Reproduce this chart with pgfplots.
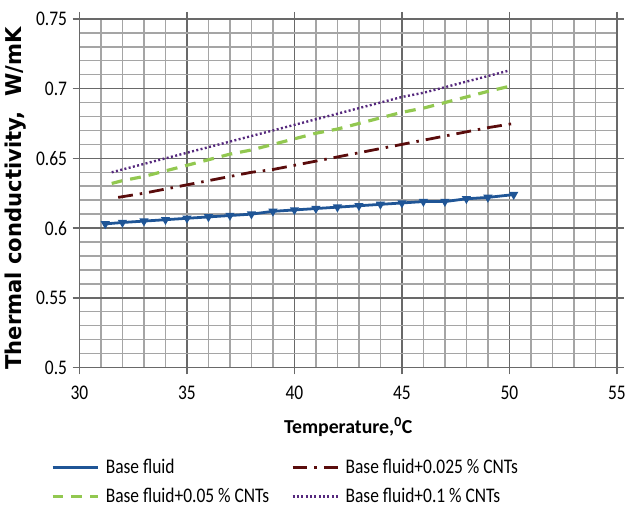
\documentclass[border=0pt]{standalone}
\usepackage{fontspec}
\setmainfont{Carlito}[FakeStretch=0.84]
\newfontfamily\xlabfont{Carlito}
\newfontfamily\ylabfont{DejaVu Sans}[FakeStretch=0.97]
\usepackage{pgfplots}
\pgfplotsset{compat=1.18}

\definecolor{cbase}{RGB}{31,85,150}
\definecolor{cred}{RGB}{90,12,12}
\definecolor{cgreen}{RGB}{146,200,80}
\definecolor{cpurple}{RGB}{85,40,125}
\definecolor{gmaj}{RGB}{105,105,105}
\definecolor{gmin}{RGB}{165,165,165}

\begin{document}
\begin{tikzpicture}
\begin{axis}[
  scale only axis,
  width=541bp, height=351bp,
  xmin=30, xmax=55, ymin=0.5, ymax=0.75,
  xtick={30,35,...,55},
  ytick={0.5,0.55,0.6,0.65,0.7,0.75},
  yticklabels={0.5,0.55,0.6,0.65,0.7,0.75},
  minor x tick num=4, minor y tick num=4,
  grid=both,
  major grid style={draw=gmaj, line width=1.5bp},
  minor grid style={draw=gmin, line width=1.5bp},
  axis line style={draw=gmaj, line width=1.5bp},
  tick align=outside,
  major tick length=7bp, minor tick length=0pt,
  tick style={draw=gmaj, line width=1.5bp},
  /pgf/number format/assume math mode=true,
  ticklabel style={font=\fontsize{21}{23}\selectfont},
  xticklabel style={yshift=-8bp},
  yticklabel style={xshift=-2bp},
  xlabel={\xlabfont\bfseries Temperature,\textsuperscript{0}C},
  xlabel style={font=\fontsize{20}{22}\selectfont, at={(0.5,-0.171)}, anchor=center},
  ylabel={\ylabfont\bfseries Thermal conductivity,\ \ W/mK},
  ylabel style={font=\fontsize{22}{24}\selectfont, at={(-0.118,0.485)}, anchor=center},
  legend columns=2,
  legend cell align=left,
  legend style={at={(-0.059,-0.252)}, anchor=north west, draw=none, fill=none,
    font=\fontsize{21}{23}\selectfont, row sep=9bp,
    nodes={inner xsep=6bp},
    /tikz/every even column/.append style={column sep=16bp}},
  legend image code/.code={\draw[#1] (0bp,0bp) -- (46bp,0bp);},
]
\addplot[cbase, line width=2.8bp, mark=triangle*, mark size=2.6bp,
  mark options={solid, rotate=180}] coordinates {
  (31.2,0.603) (32,0.604) (33,0.605) (34,0.606) (35,0.607) (36,0.608)
  (37,0.609) (38,0.610) (39,0.612) (40,0.613) (41,0.614) (42,0.615)
  (43,0.616) (44,0.617) (45,0.618) (46,0.619) (47,0.619) (48,0.621)
  (49,0.622) (50.2,0.624)
};
\addlegendentry{Base fluid}
\addplot[cred, line width=2.8bp, dash pattern=on 15bp off 7bp on 2.5bp off 7bp] coordinates {
  (31.8,0.622) (33,0.625) (34,0.628) (35,0.631) (36,0.634) (37,0.637)
  (38,0.640) (39,0.642) (40,0.645) (41,0.648) (42,0.651) (43,0.654)
  (44,0.657) (45,0.660) (46,0.663) (47,0.666) (48,0.669) (49,0.672)
  (50.2,0.675)
};
\addlegendentry{Base fluid+0.025 \% CNTs}
\addplot[cgreen, line width=3.2bp, dash pattern=on 11bp off 8bp] coordinates {
  (31.5,0.632) (32,0.634) (33,0.637) (34,0.641) (35,0.645) (36,0.649)
  (37,0.653) (38,0.656) (39,0.660) (40,0.664) (41,0.668) (42,0.671)
  (43,0.675) (44,0.679) (45,0.683) (46,0.686) (47,0.690) (48,0.694)
  (49,0.698) (50.1,0.702)
};
\addlegendentry{Base fluid+0.05 \% CNTs}
\addplot[cpurple, line width=2.4bp, dash pattern=on 2bp off 2.4bp] coordinates {
  (31.5,0.640) (32,0.642) (33,0.646) (34,0.650) (35,0.654) (36,0.658)
  (37,0.662) (38,0.666) (39,0.670) (40,0.674) (41,0.678) (42,0.682)
  (43,0.686) (44,0.690) (45,0.694) (46,0.697) (47,0.701) (48,0.705)
  (49,0.709) (50,0.713)
};
\addlegendentry{Base fluid+0.1 \% CNTs}
\end{axis}
\path[use as bounding box] (-80bp,-139bp) rectangle (549bp,370bp);
\end{tikzpicture}
\end{document}
